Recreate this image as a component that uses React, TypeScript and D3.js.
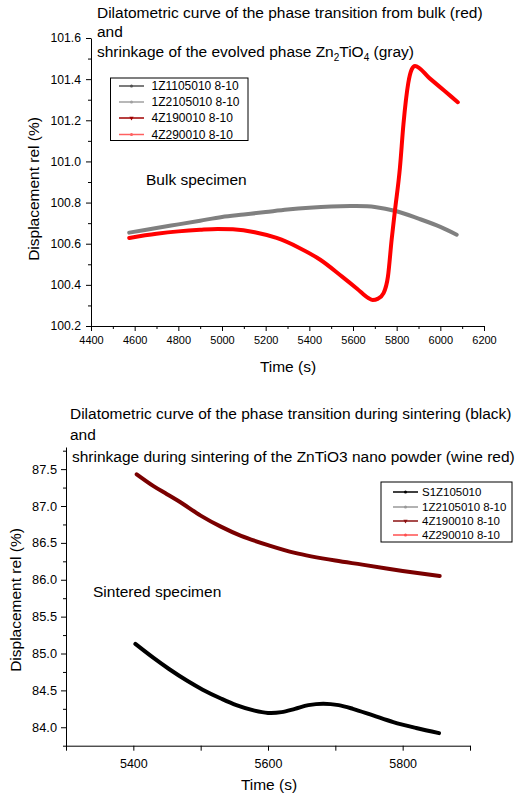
import React, { useEffect, useRef } from 'react';
import * as d3 from 'd3';

// top panel: bulk specimen
const grayTime = [4575, 4700, 4800, 4900, 5000, 5100, 5200, 5300, 5400, 5500, 5600, 5700, 5800, 5900, 6000, 6075];
const grayDisp = [100.654, 100.676, 100.694, 100.712, 100.73, 100.742, 100.754, 100.766, 100.775, 100.781, 100.783, 100.779, 100.758, 100.722, 100.682, 100.644];

const redTime = [4575, 4700, 4800, 4900, 4980, 5050, 5150, 5250, 5350, 5450, 5550, 5620, 5670, 5690, 5715, 5740, 5760, 5777, 5792, 5815, 5831, 5853, 5868, 5884, 5950, 6020, 6080];
const redDisp = [100.628, 100.648, 100.66, 100.668, 100.672, 100.67, 100.656, 100.628, 100.582, 100.522, 100.44, 100.38, 100.336, 100.326, 100.333, 100.36, 100.44, 100.62, 100.76, 100.97, 101.18, 101.38, 101.445, 101.464, 101.405, 101.342, 101.288];

// bottom panel: sintered specimen
const wineTime = [5405, 5430, 5450, 5470, 5500, 5530, 5560, 5600, 5640, 5700, 5740, 5800, 5855];
const wineDisp = [87.43, 87.27, 87.16, 87.05, 86.87, 86.72, 86.595, 86.47, 86.365, 86.26, 86.205, 86.12, 86.05];

const blackTime = [5403, 5430, 5453, 5480, 5503, 5530, 5553, 5580, 5600, 5620, 5640, 5660, 5682, 5705, 5726, 5756, 5786, 5820, 5854];
const blackDisp = [85.13, 84.94, 84.79, 84.63, 84.51, 84.39, 84.3, 84.225, 84.195, 84.205, 84.25, 84.3, 84.32, 84.3, 84.25, 84.16, 84.07, 83.99, 83.92];

const topLegend = ['1Z1105010 8-10', '1Z2105010 8-10', '4Z190010 8-10', '4Z290010 8-10'];
const topLegendColors = ['#505050', '#a0a0a0', '#a00000', '#ff6060'];
const bottomLegend = ['S1Z105010', '1Z2105010 8-10', '4Z190010 8-10', '4Z290010 8-10'];
const bottomLegendColors = ['#000000', '#999999', '#8b1010', '#ff5050'];

const FONT = "Liberation Sans, Arial, sans-serif";

type G = d3.Selection<SVGGElement, unknown, null, undefined>;

const App: React.FC = () => {
  const svgRef = useRef<SVGSVGElement>(null);

  useEffect(() => {
    if (!svgRef.current) return;
    const svg = d3.select(svgRef.current);
    svg.selectAll('*').remove();
    const g = svg.append('g').attr('font-family', FONT).attr('fill', '#000') as G;

    // the bottom title was measured at ~446px wide in the reference; scale fonts to match
    const probe = g.append('text').attr('font-size', 100).attr('x', -9999)
      .text('Dilatometric curve of the phase transition during sintering (black)');
    const measured = (probe.node() as SVGTextElement).getComputedTextLength() || 2851;
    probe.remove();
    const k = 2851 / measured;
    const BIG = 15.5 * k;

    const styleAxis = (a: G, size: number) => {
      a.attr('font-family', FONT).attr('font-size', size * k);
      a.select('.domain').attr('stroke', '#000').attr('stroke-width', 1);
      a.selectAll('.tick line').attr('stroke', '#000');
      a.selectAll('.tick text').attr('fill', '#000');
    };

    const drawLine = (xs: number[], ys: number[], x: d3.ScaleLinear<number, number>, y: d3.ScaleLinear<number, number>, color: string, w: number, curve: d3.CurveFactory) => {
      const pts = xs.map((t, i) => [t, ys[i]] as [number, number]);
      const line = d3.line<[number, number]>()
        .x(d => x(d[0]))
        .y(d => y(d[1]))
        .curve(curve);
      g.append('path')
        .datum(pts)
        .attr('d', line)
        .attr('fill', 'none')
        .attr('stroke', color)
        .attr('stroke-width', w)
        .attr('stroke-linejoin', 'round')
        .attr('stroke-linecap', 'round');
    };

    const drawLegend = (x0: number, y0: number, w: number, h: number, ys: number[], labels: string[], colors: string[], lx: number, tx: number, size: number) => {
      g.append('rect').attr('x', x0).attr('y', y0).attr('width', w).attr('height', h)
        .attr('fill', '#fff').attr('stroke', '#000').attr('stroke-width', 1);
      labels.forEach((lab, i) => {
        const yy = ys[i];
        g.append('line').attr('x1', lx).attr('x2', lx + 25).attr('y1', yy).attr('y2', yy)
          .attr('stroke', colors[i]).attr('stroke-width', 1.5);
        if (i === 2) {
          g.append('path').attr('d', d3.symbol(d3.symbolTriangle, 8)())
            .attr('transform', `translate(${lx + 12.5},${yy}) rotate(180)`).attr('fill', colors[i]);
        } else {
          g.append('circle').attr('cx', lx + 12.5).attr('cy', yy).attr('r', 1.5).attr('fill', colors[i]);
        }
        g.append('text').attr('x', tx).attr('y', yy + size * 0.36).attr('font-size', size * k).text(lab);
      });
    };

    const bigText = (x: number, y: number, s: string, anchor = 'start') =>
      g.append('text').attr('x', x).attr('y', y).attr('text-anchor', anchor).attr('font-size', BIG).text(s);

    // ---------- top panel ----------
    const x1 = d3.scaleLinear().domain([4400, 6200]).range([91, 484]);
    const y1 = d3.scaleLinear().domain([100.2, 101.6]).range([326, 38]);

    const xa1 = g.append('g').attr('transform', 'translate(0,326)') as G;
    xa1.call(d3.axisBottom(x1).tickValues(d3.range(4400, 6201, 200)).tickSize(5).tickSizeOuter(0).tickPadding(5).tickFormat(d3.format('d')));
    styleAxis(xa1, 11);
    const xm1 = g.append('g').attr('transform', 'translate(0,326)') as G;
    xm1.call(d3.axisBottom(x1).tickValues(d3.range(4500, 6200, 200)).tickSize(3).tickSizeOuter(0).tickFormat(() => ''));
    xm1.select('.domain').remove();
    xm1.selectAll('.tick line').attr('stroke', '#000');

    const ya1 = g.append('g').attr('transform', 'translate(91,0)') as G;
    ya1.call(d3.axisLeft(y1).tickValues(d3.range(0, 8).map(i => 100.2 + i * 0.2)).tickSize(5).tickSizeOuter(0).tickPadding(5).tickFormat(d3.format('.1f')));
    styleAxis(ya1, 12.2);
    const ym1 = g.append('g').attr('transform', 'translate(91,0)') as G;
    ym1.call(d3.axisLeft(y1).tickValues(d3.range(0, 7).map(i => 100.3 + i * 0.2)).tickSize(3).tickSizeOuter(0).tickFormat(() => ''));
    ym1.select('.domain').remove();
    ym1.selectAll('.tick line').attr('stroke', '#000');

    drawLine(grayTime, grayDisp, x1, y1, '#808080', 4, d3.curveCatmullRom);
    drawLine(redTime, redDisp, x1, y1, '#ff0000', 4, d3.curveMonotoneX);

    const t1 = g.append('text').attr('font-size', BIG);
    t1.append('tspan').attr('x', 97).attr('y', 17.5).text('Dilatometric curve of the phase transition from bulk (red)');
    t1.append('tspan').attr('x', 97).attr('y', 37).text('and');
    t1.append('tspan').attr('x', 97).attr('y', 56.5).text('shrinkage of the evolved phase Zn');
    t1.append('tspan').attr('dy', 4).attr('font-size', 10 * k).text('2');
    t1.append('tspan').attr('dy', -4).text('TiO');
    t1.append('tspan').attr('dy', 4).attr('font-size', 10 * k).text('4');
    t1.append('tspan').attr('dy', -4).text(' (gray)');

    drawLegend(110.5, 78, 137.5, 62.5, [86, 102, 118, 134.5], topLegend, topLegendColors, 119, 151.5, 12);

    bigText(146, 185, 'Bulk specimen');
    bigText(288, 372, 'Time (s)', 'middle');
    g.append('text').attr('transform', 'translate(39,189) rotate(-90)').attr('text-anchor', 'middle').attr('font-size', BIG).text('Displacement rel (%)');

    // ---------- bottom panel ----------
    const x2 = d3.scaleLinear().domain([5300, 5900]).range([66, 470]);
    const y2 = d3.scaleLinear().domain([83.75, 87.8]).range([745.7, 447]);

    const xa2 = g.append('g').attr('transform', 'translate(0,745.7)') as G;
    xa2.call(d3.axisBottom(x2).tickValues([5400, 5600, 5800]).tickSize(5).tickSizeOuter(0).tickPadding(8).tickFormat(d3.format('d')));
    styleAxis(xa2, 12.5);
    const xm2 = g.append('g').attr('transform', 'translate(0,745.7)') as G;
    xm2.call(d3.axisBottom(x2).tickValues([5300, 5500, 5700, 5900]).tickSize(5).tickSizeOuter(0).tickFormat(() => ''));
    xm2.select('.domain').remove();
    xm2.selectAll('.tick line').attr('stroke', '#000');

    const ya2 = g.append('g').attr('transform', 'translate(66,0)') as G;
    ya2.call(d3.axisLeft(y2).tickValues(d3.range(0, 8).map(i => 84 + i * 0.5)).tickSize(5).tickSizeOuter(0).tickPadding(4).tickFormat(d3.format('.1f')));
    styleAxis(ya2, 12.8);
    const ym2 = g.append('g').attr('transform', 'translate(66,0)') as G;
    ym2.call(d3.axisLeft(y2).tickValues(d3.range(0, 9).map(i => 83.75 + i * 0.5)).tickSize(3).tickSizeOuter(0).tickFormat(() => ''));
    ym2.select('.domain').remove();
    ym2.selectAll('.tick line').attr('stroke', '#000');

    drawLine(wineTime, wineDisp, x2, y2, '#7a0000', 4, d3.curveCatmullRom);
    drawLine(blackTime, blackDisp, x2, y2, '#000000', 4, d3.curveCatmullRom);

    const t2 = g.append('text').attr('font-size', BIG);
    t2.append('tspan').attr('x', 70).attr('y', 418.5).text('Dilatometric curve of the phase transition during sintering (black)');
    t2.append('tspan').attr('x', 70).attr('y', 440).text('and');
    t2.append('tspan').attr('x', 72).attr('y', 461.5).text('shrinkage during sintering of the ZnTiO3 nano powder (wine red)');

    drawLegend(381, 482, 131, 60, [492, 507, 521, 535], bottomLegend, bottomLegendColors, 393, 422, 11.5);

    bigText(93, 597, 'Sintered specimen');
    bigText(269, 790, 'Time (s)', 'middle');
    g.append('text').attr('transform', 'translate(21,600) rotate(-90)').attr('text-anchor', 'middle').attr('font-size', BIG).text('Displacement rel (%)');
  }, []);

  return (
    <div>
      <style>{'body{margin:0}'}</style>
      <svg ref={svgRef} width={527} height={798} style={{ display: 'block', background: '#fff' }} />
    </div>
  );
};

export default App;
